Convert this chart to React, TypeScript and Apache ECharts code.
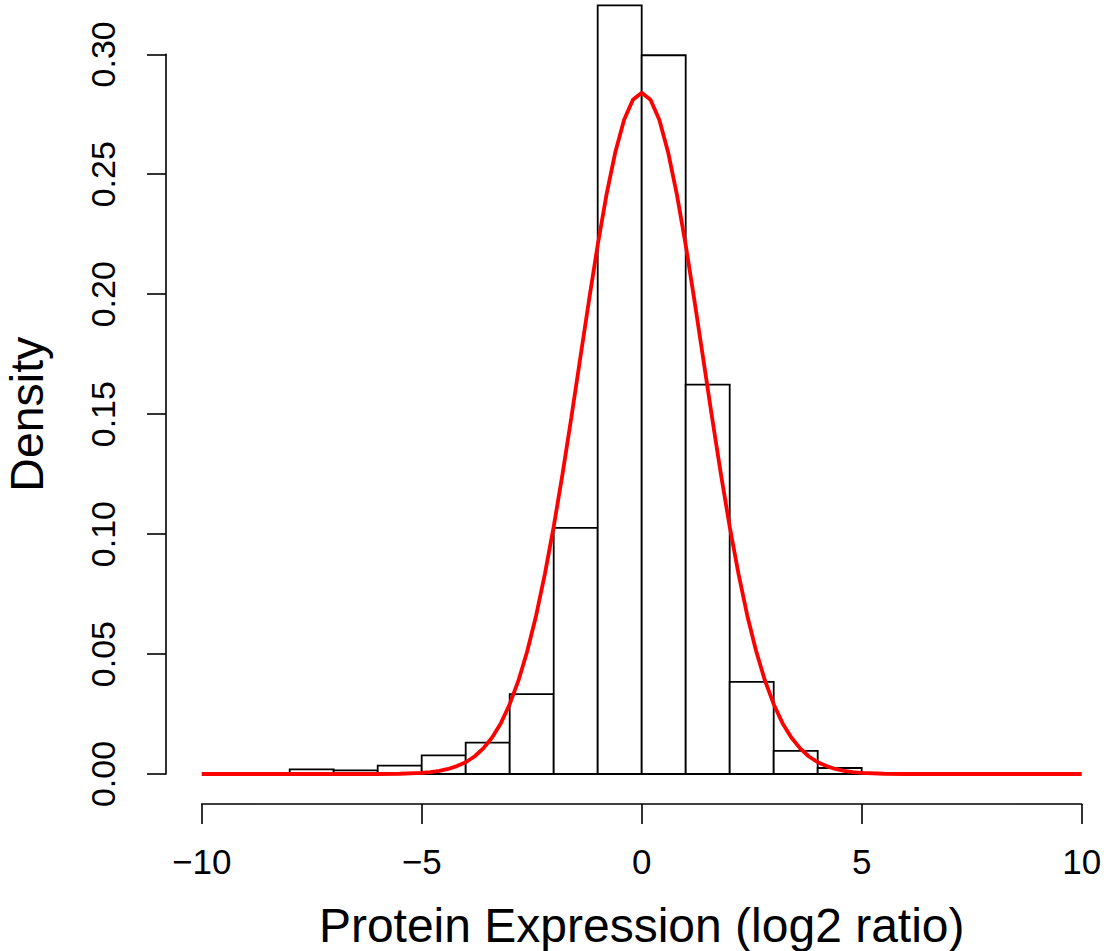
import React, { useEffect, useRef } from "react";
import * as echarts from "echarts";

// Histogram bins (left edge, right edge) and densities
const binStart = [-9, -8, -7, -6, -5, -4, -3, -2, -1, 0, 1, 2, 3, 4, 5];
const binEnd = [-8, -7, -6, -5, -4, -3, -2, -1, 0, 1, 2, 3, 4, 5, 6];
const density = [
  0.0003, 0.0019, 0.0015, 0.0035, 0.0078, 0.0131, 0.0333, 0.1026, 0.3204,
  0.2996, 0.1623, 0.0384, 0.0096, 0.0025, 0.0004,
];

// Fitted density curve
const curveX = [
  -10, -9, -8, -7, -6, -5.5, -5.0, -4.8, -4.6, -4.4, -4.2, -4.0, -3.8, -3.6,
  -3.4, -3.2, -3.0, -2.8, -2.6, -2.4, -2.2, -2.0, -1.8, -1.6, -1.4, -1.2, -1.0,
  -0.8, -0.6, -0.4, -0.2, 0, 0.2, 0.4, 0.6, 0.8, 1.0, 1.2, 1.4, 1.6, 1.8, 2.0,
  2.2, 2.4, 2.6, 2.8, 3.0, 3.2, 3.4, 3.6, 3.8, 4.0, 4.2, 4.4, 4.6, 4.8, 5.0,
  5.5, 6, 7, 8, 9, 10,
];
const curveY = [
  0, 0, 0, 0, 0, 0.0001, 0.0005, 0.0008, 0.0013, 0.0021, 0.0033, 0.0049,
  0.0073, 0.0107, 0.0152, 0.0212, 0.0291, 0.039, 0.0513, 0.066, 0.0834, 0.1031,
  0.125, 0.1485, 0.1729, 0.1972, 0.2205, 0.2415, 0.2592, 0.2727, 0.2811, 0.284,
  0.2811, 0.2727, 0.2592, 0.2415, 0.2205, 0.1972, 0.1729, 0.1485, 0.125,
  0.1031, 0.0834, 0.066, 0.0513, 0.039, 0.0291, 0.0212, 0.0152, 0.0107, 0.0073,
  0.0049, 0.0033, 0.0021, 0.0013, 0.0008, 0.0005, 0.0001, 0, 0, 0, 0, 0,
];

const xTicks = { min: -10, max: 10, interval: 5 };
const yTicks = { min: 0, max: 0.3, interval: 0.05 };

const FONT = "'Liberation Sans', Arial, Helvetica, sans-serif";

export default function App() {
  const ref = useRef<HTMLDivElement>(null);

  useEffect(() => {
    if (!ref.current) return;
    const chart = echarts.init(ref.current, undefined, { renderer: "svg" });

    const barData = binStart.map((s, i) => [s, binEnd[i], density[i]]);
    const lineData = curveX.map((x, i) => [x, curveY[i]]);

    chart.setOption({
      animation: false,
      backgroundColor: "#ffffff",
      grid: {
        left: 201.7,
        right: 24.3,
        top: 54.3,
        bottom: 177,
        containLabel: false,
        outerBoundsMode: "none",
      },
      xAxis: {
        type: "value",
        min: xTicks.min,
        max: xTicks.max,
        interval: xTicks.interval,
        offset: 30,
        splitLine: { show: false },
        axisLine: { show: true, onZero: false, lineStyle: { color: "#000", width: 1.6 } },
        axisTick: { show: true, length: 20, lineStyle: { color: "#000", width: 1.6 } },
        axisLabel: {
          color: "#000",
          fontSize: 35,
          fontFamily: FONT,
          margin: 40,
          formatter: (v: number) => (v < 0 ? "\u2212" + Math.abs(v) : String(v)),
        },
        name: "Protein Expression (log2 ratio)",
        nameLocation: "middle",
        nameGap: 97,
        nameTextStyle: { color: "#000", fontSize: 48, fontFamily: FONT },
      },
      yAxis: {
        type: "value",
        min: yTicks.min,
        max: yTicks.max,
        interval: yTicks.interval,
        offset: 35.7,
        splitLine: { show: false },
        axisLine: { show: true, onZero: false, lineStyle: { color: "#000", width: 1.6 } },
        axisTick: { show: true, length: 19, lineStyle: { color: "#000", width: 1.6 } },
        axisLabel: {
          color: "#000",
          fontSize: 34,
          fontFamily: FONT,
          rotate: 90,
          margin: 46,
          formatter: (v: number) => v.toFixed(2),
        },
        name: "Density",
        nameLocation: "middle",
        nameRotate: 90,
        nameGap: 116,
        nameTextStyle: { color: "#000", fontSize: 46.5, fontFamily: FONT },
      },
      series: [
        {
          type: "custom",
          clip: false,
          data: barData,
          encode: { x: [0, 1], y: 2 },
          renderItem: (params: any, api: any) => {
            const p0 = api.coord([api.value(0), 0]);
            const p1 = api.coord([api.value(1), api.value(2)]);
            return {
              type: "rect",
              shape: {
                x: p0[0],
                y: p1[1],
                width: p1[0] - p0[0],
                height: p0[1] - p1[1],
              },
              style: { fill: "#ffffff", stroke: "#000000", lineWidth: 1.8 },
            };
          },
          z: 2,
        },
        {
          type: "line",
          data: lineData,
          clip: false,
          showSymbol: false,
          symbol: "none",
          smooth: false,
          lineStyle: { color: "#ff0000", width: 3.8 },
          z: 3,
        },
      ],
    });

    return () => chart.dispose();
  }, []);

  return (
    <div
      ref={ref}
      style={{ position: "absolute", left: 0, top: 0, width: 1106, height: 951 }}
    />
  );
}
